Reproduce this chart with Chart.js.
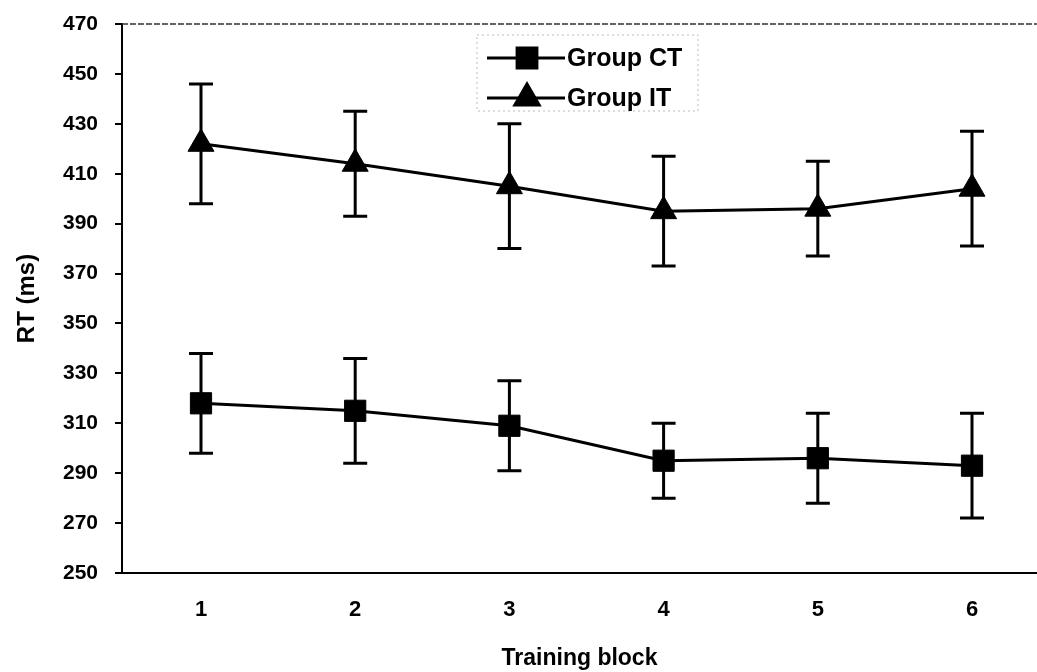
<!DOCTYPE html>
<html>
<head>
<meta charset="utf-8">
<script src="https://cdn.jsdelivr.net/npm/chart.js@4/dist/chart.umd.min.js"></script>
<style>
  html, body { margin: 0; padding: 0; overflow: hidden; background: #fff; }
  canvas { display: block; }
</style>
</head>
<body>
<canvas id="myChart" width="1037" height="672"></canvas>
<script>
// ---- data ----
const blocks = [1, 2, 3, 4, 5, 6];
const ctMean = [318, 315, 309, 295, 296, 293];
const ctErr  = [20, 21, 18, 15, 18, 21];
const itMean = [422, 414, 405, 395, 396, 404];
const itErr  = [24, 21, 25, 22, 19, 23];
const yTicks = [250, 270, 290, 310, 330, 350, 370, 390, 410, 430, 450, 470];

const FONT = '"Liberation Sans", Arial, sans-serif';

// error bars drawn under the markers
const errorBars = {
  id: 'errorBars',
  beforeDatasetsDraw(chart) {
    const ctx = chart.ctx;
    const y = chart.scales.y;
    ctx.save();
    ctx.strokeStyle = '#000';
    ctx.lineWidth = 3;
    chart.data.datasets.forEach((ds, i) => {
      const meta = chart.getDatasetMeta(i);
      meta.data.forEach((pt, j) => {
        const m = ds.data[j].y, e = ds.err[j];
        const top = y.getPixelForValue(m + e);
        const bot = y.getPixelForValue(m - e);
        ctx.beginPath();
        ctx.moveTo(pt.x, top); ctx.lineTo(pt.x, bot);
        ctx.moveTo(pt.x - 12, top); ctx.lineTo(pt.x + 12, top);
        ctx.moveTo(pt.x - 12, bot); ctx.lineTo(pt.x + 12, bot);
        ctx.stroke();
      });
    });
    ctx.restore();
  }
};

// dotted top frame + Excel style legend inside the plot
const frameLegend = {
  id: 'frameLegend',
  afterDraw(chart) {
    const ctx = chart.ctx;
    const a = chart.chartArea;
    ctx.save();
    ctx.strokeStyle = '#333';
    ctx.lineWidth = 1.5;
    ctx.setLineDash([6, 2]);
    ctx.beginPath();
    ctx.moveTo(a.left, a.top); ctx.lineTo(a.right, a.top);
    ctx.stroke();

    // legend box
    ctx.strokeStyle = '#bbb';
    ctx.lineWidth = 1;
    ctx.setLineDash([2, 3]);
    ctx.strokeRect(477, 35, 221, 76);
    ctx.setLineDash([]);

    chart.data.datasets.forEach((ds, i) => {
      const ly = 58 + i * 40;
      ctx.strokeStyle = '#000';
      ctx.fillStyle = '#000';
      ctx.lineWidth = 3;
      ctx.beginPath();
      ctx.moveTo(487, ly); ctx.lineTo(565, ly);
      ctx.stroke();
      Chart.helpers.drawPoint(ctx, {
        pointStyle: ds.pointStyle, radius: 14, rotation: 0, borderWidth: 1
      }, 527, ly);
      ctx.font = 'bold 25px ' + FONT;
      ctx.textBaseline = 'middle';
      ctx.textAlign = 'left';
      ctx.fillText(ds.label, 567, ly + 1);
    });
    ctx.restore();
  }
};

// no extra label padding, chart area is set by layout padding only
const noPad = (s) => { s.paddingTop = 0; s.paddingBottom = 0; s.paddingLeft = 0; s.paddingRight = 0; };

const data = {
  datasets: [
    {
      label: 'Group CT',
      data: blocks.map((b, i) => ({ x: b, y: ctMean[i] })),
      err: ctErr,
      borderColor: '#000',
      backgroundColor: '#000',
      borderWidth: 3,
      pointStyle: 'rect',
      pointRadius: 15,
      pointBorderWidth: 1
    },
    {
      label: 'Group IT',
      data: blocks.map((b, i) => ({ x: b, y: itMean[i] })),
      err: itErr,
      borderColor: '#000',
      backgroundColor: '#000',
      borderWidth: 3,
      pointStyle: 'triangle',
      pointRadius: 15,
      pointBorderWidth: 1
    }
  ]
};

const config = {
  type: 'line',
  data: data,
  options: {
    responsive: false,
    animation: false,
    layout: { autoPadding: false, padding: { top: 24, right: 0, bottom: 0, left: 0 } },
    plugins: {
      legend: { display: false },
      tooltip: { enabled: false }
    },
    scales: {
      x: {
        type: 'linear',
        min: 0.4877,
        max: 6.4215,
        afterBuildTicks: (s) => { s.ticks = blocks.map(v => ({ value: v })); },
        afterFit: (s) => { s.height = 99; noPad(s); },
        grid: { display: false, drawTicks: false },
        border: { display: true, color: '#000', width: 2 },
        ticks: {
          color: '#000',
          padding: 24,
          font: { family: FONT, size: 22, weight: 'bold' },
          callback: (v) => String(v)
        },
        title: {
          display: true,
          text: 'Training block',
          color: '#000',
          padding: { top: 5, bottom: 0 },
          font: { family: FONT, size: 23, weight: 'bold' }
        }
      },
      y: {
        min: 250,
        max: 470,
        afterBuildTicks: (s) => { s.ticks = yTicks.map(v => ({ value: v })); },
        afterFit: (s) => { s.width = 122; noPad(s); },
        grid: {
          drawOnChartArea: false,
          drawTicks: true,
          tickLength: 7,
          color: '#000',
          lineWidth: 2
        },
        border: { display: true, color: '#000', width: 2 },
        ticks: {
          color: '#000',
          padding: 17,
          font: { family: FONT, size: 21, weight: 'bold' }
        },
        title: {
          display: true,
          text: 'RT (ms)',
          color: '#000',
          padding: { top: 13, bottom: 0 },
          font: { family: FONT, size: 24, weight: 'bold' }
        }
      }
    }
  },
  plugins: [errorBars, frameLegend]
};

const myChart = new Chart(document.getElementById('myChart'), config);
</script>
</body>
</html>
